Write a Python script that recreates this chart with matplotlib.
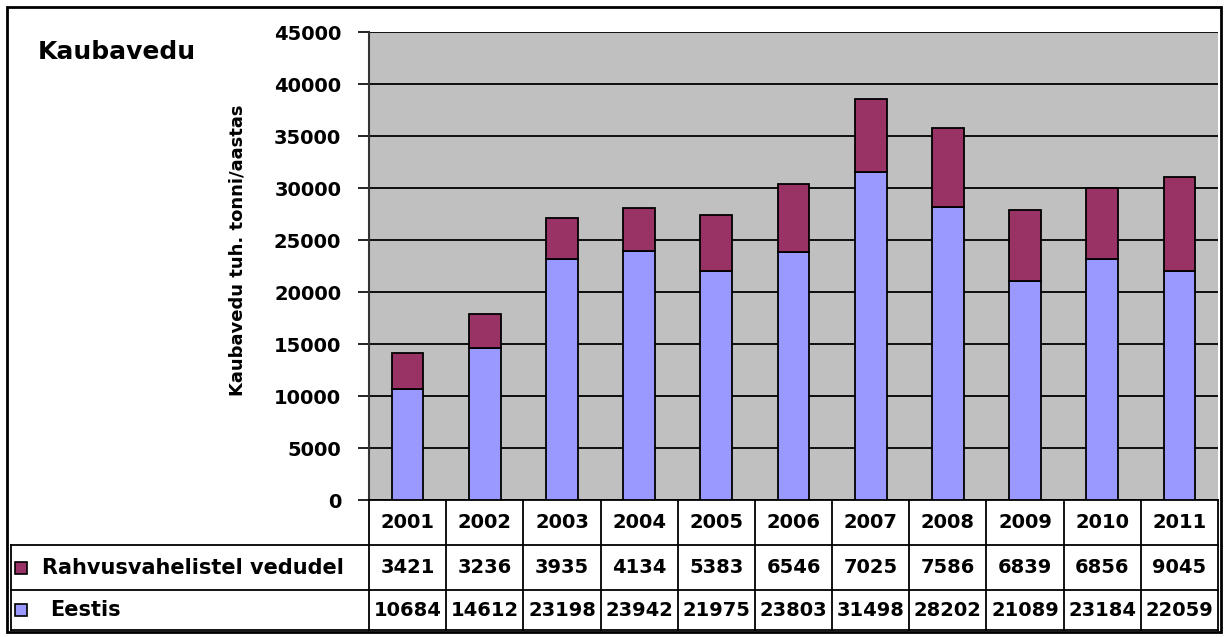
import matplotlib
matplotlib.use('Agg')
import matplotlib.pyplot as plt
from matplotlib.patches import Rectangle
from matplotlib.transforms import blended_transform_factory
import numpy as np

years = ['2001', '2002', '2003', '2004', '2005', '2006', '2007', '2008', '2009', '2010', '2011']
eestis = [10684, 14612, 23198, 23942, 21975, 23803, 31498, 28202, 21089, 23184, 22059]
rahvusvaheline = [3421, 3236, 3935, 4134, 5383, 6546, 7025, 7586, 6839, 6856, 9045]
row_labels = ['Rahvusvahelistel vedudel', 'Eestis']
row_colors = ['#993366', '#9999FF']

W, H = 1231, 637
fig = plt.figure(figsize=(W / 100, H / 100), dpi=100)
plt.rcParams['font.family'] = ['DejaVu Sans']

# plot area in pixels
L, R, T, B = 369, 1218, 32, 500
ax = fig.add_axes([L / W, 1 - B / H, (R - L) / W, (B - T) / H])
ax.set_facecolor('#C0C0C0')

x = np.arange(len(years))
ax.bar(x, eestis, width=0.41, color=row_colors[1], edgecolor='black', linewidth=1.3, zorder=3)
ax.bar(x, rahvusvaheline, width=0.41, bottom=eestis, color=row_colors[0],
       edgecolor='black', linewidth=1.3, zorder=3)

ax.set_xlim(-0.5, len(years) - 0.5)
ax.set_ylim(0, 45000)
ax.set_yticks(range(0, 45001, 5000))
ax.set_yticklabels([str(v) for v in range(0, 45001, 5000)], fontsize=14, fontweight='bold')
ax.tick_params(axis='y', length=8, width=1.2, color='black', pad=12)
ax.set_xticks([])
ax.yaxis.grid(True, color='black', linewidth=1.3)
ax.set_axisbelow(True)
for s in ['top', 'right']:
    ax.spines[s].set_visible(False)
ax.spines['left'].set_linewidth(1.5)
ax.spines['left'].set_color('#333333')
ax.spines['bottom'].set_linewidth(1.3)

fig.text(237 / W, 1 - 250 / H, 'Kaubavedu tuh. tonni/aastas', rotation=90,
         ha='center', va='center', fontsize=13, fontweight='bold')
fig.text(38 / W, 1 - 52 / H, 'Kaubavedu', ha='left', va='center', fontsize=18, fontweight='bold')

# data table below the axes
ph = B - T
rows_px = [500, 545, 590, 630]
ry = [-(r - 500) / ph for r in rows_px]
tr = blended_transform_factory(ax.transData, ax.transAxes)
lab_left = (11 - L) / (R - L)
lw = 1.3

for i in range(len(years) + 1):
    ax.plot([i - 0.5, i - 0.5], [ry[0], ry[3]], color='black', lw=lw, transform=tr, clip_on=False)
ax.plot([lab_left, lab_left], [ry[1], ry[3]], color='black', lw=lw, transform=ax.transAxes, clip_on=False)
for yy in ry[1:]:
    ax.plot([lab_left, 1], [yy, yy], color='black', lw=lw, transform=ax.transAxes, clip_on=False)

for i, yr in enumerate(years):
    ax.text(i, (ry[0] + ry[1]) / 2, yr, transform=tr, ha='center', va='center',
            fontsize=14, fontweight='bold')
    ax.text(i, (ry[1] + ry[2]) / 2, str(rahvusvaheline[i]), transform=tr, ha='center',
            va='center', fontsize=14, fontweight='bold')
    ax.text(i, (ry[2] + ry[3]) / 2, str(eestis[i]), transform=tr, ha='center',
            va='center', fontsize=14, fontweight='bold')

label_x = [42, 50]
for k, lab in enumerate(row_labels):
    yc = (rows_px[k + 1] + rows_px[k + 2]) / 2
    fig.patches.append(Rectangle((15 / W, 1 - (yc + 6) / H), 12 / W, 12 / H,
                                 transform=fig.transFigure, facecolor=row_colors[k],
                                 edgecolor='black', linewidth=1.2))
    fig.text(label_x[k] / W, 1 - yc / H, lab, ha='left', va='center',
             fontsize=15, fontweight='bold')

# outer chart border
fig.patches.append(Rectangle((7 / W, 1 - 632 / H), 1214 / W, 625 / H, transform=fig.transFigure,
                             fill=False, edgecolor='black', linewidth=2))

fig.savefig('out.png', dpi=100)
